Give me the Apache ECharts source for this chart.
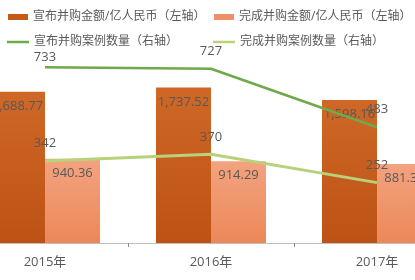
<!DOCTYPE html>
<html><head><meta charset="utf-8">
<script src="https://cdn.jsdelivr.net/npm/echarts@6/dist/echarts.min.js"></script>
<style>html,body{margin:0;padding:0;background:#fff;overflow:hidden;width:415px;height:280px;position:relative}#c{position:absolute;left:-38px;top:0;width:498px;height:280px}</style>
</head><body><div id="c"></div>
<script>
const categories = ['2015年', '2016年', '2017年'];
const announcedAmount = [1688.77, 1737.52, 1598.16];
const completedAmount = [940.36, 914.29, 881.30];
const announcedCount = [733, 727, 483];
const completedCount = [342, 370, 252];
const seriesNames = ['宣布并购金额/亿人民币（左轴）', '完成并购金额/亿人民币（左轴）', '宣布并购案例数量（右轴）', '完成并购案例数量（右轴）'];

const FONT = "'Open Sans', 'Noto Sans CJK SC', sans-serif";
const TXT = '#595959';
const OFF = 38; // the div is shifted left by this many pixels
const DARK_BAR = '#C65B16', LIGHT_BAR = '#EE9166', DARK_LINE = '#70AA48', LIGHT_LINE = '#B7D27A';
function fmt(v) {
  const parts = v.toFixed(2).split('.');
  parts[0] = parts[0].replace(/\B(?=(\d{3})+(?!\d))/g, ',');
  return parts.join('.');
}
function legendItem(name, left, top, isLine, color) {
  return {
    left: left + OFF, top: top, orient: 'horizontal',
    itemWidth: isLine ? 22 : 20, itemHeight: isLine ? 2.5 : 6,
    textStyle: { fontSize: 12, color: TXT, fontFamily: FONT },
    data: [{ name: name, icon: 'rect', itemStyle: { color: color } }]
  };
}
const chart = echarts.init(document.getElementById('c'));
chart.setOption({
  animation: false,
  textStyle: { fontFamily: FONT },
  legend: [
    legendItem(seriesNames[0], 3, 6, false, DARK_BAR),
    legendItem(seriesNames[1], 209, 6, false, LIGHT_BAR),
    legendItem(seriesNames[2], 2, 31, true, DARK_LINE),
    legendItem(seriesNames[3], 208, 31, true, LIGHT_LINE)
  ],
  grid: { left: 0, right: 0, top: 64, bottom: 37, containLabel: false },
  xAxis: {
    type: 'category', data: categories,
    axisLine: { lineStyle: { color: '#BFBFBF', width: 1 } },
    axisTick: { show: true, length: 4, lineStyle: { color: '#8C8C8C' } },
    axisLabel: { fontSize: 13, color: TXT, margin: 13, fontFamily: FONT }
  },
  yAxis: [
    { type: 'value', min: 0, max: 2000, show: false, splitLine: { show: false } },
    { type: 'value', min: 0, max: 747, show: false, splitLine: { show: false } }
  ],
  series: [
    { name: seriesNames[0], type: 'bar', yAxisIndex: 0, data: announcedAmount, barWidth: 55, barGap: '0%',
      itemStyle: { color: new echarts.graphic.LinearGradient(0, 0, 0, 1, [{ offset: 0, color: '#CF6727' }, { offset: 1, color: '#BC5314' }]) },
      label: { show: true, position: 'insideTop', distance: 8, fontSize: 13, color: TXT, fontFamily: FONT, formatter: p => fmt(p.value) } },
    { name: seriesNames[1], type: 'bar', yAxisIndex: 0, data: completedAmount, barWidth: 55, barGap: '0%',
      itemStyle: { color: new echarts.graphic.LinearGradient(0, 0, 0, 1, [{ offset: 0, color: '#F3A380' }, { offset: 1, color: '#EC8858' }]) },
      label: { show: true, position: 'insideTop', distance: 8, fontSize: 13, color: TXT, fontFamily: FONT, formatter: p => fmt(p.value) } },
    { name: seriesNames[2], type: 'line', yAxisIndex: 1,
      data: announcedCount.map((v, i) => i === 0 ? { value: v, label: { distance: 4 } } : v),
      symbol: 'circle', symbolSize: 0.01, showSymbol: true, z: 5,
      itemStyle: { color: DARK_LINE }, lineStyle: { color: DARK_LINE, width: 2.5 },
      label: { show: true, position: 'top', distance: 11, fontSize: 13, color: TXT, fontFamily: FONT } },
    { name: seriesNames[3], type: 'line', yAxisIndex: 1, data: completedCount, symbol: 'circle', symbolSize: 0.01, showSymbol: true, z: 5,
      itemStyle: { color: LIGHT_LINE }, lineStyle: { color: LIGHT_LINE, width: 3 },
      label: { show: true, position: 'top', distance: 11, fontSize: 13, color: TXT, fontFamily: FONT } }
  ]
});
</script></body></html>
